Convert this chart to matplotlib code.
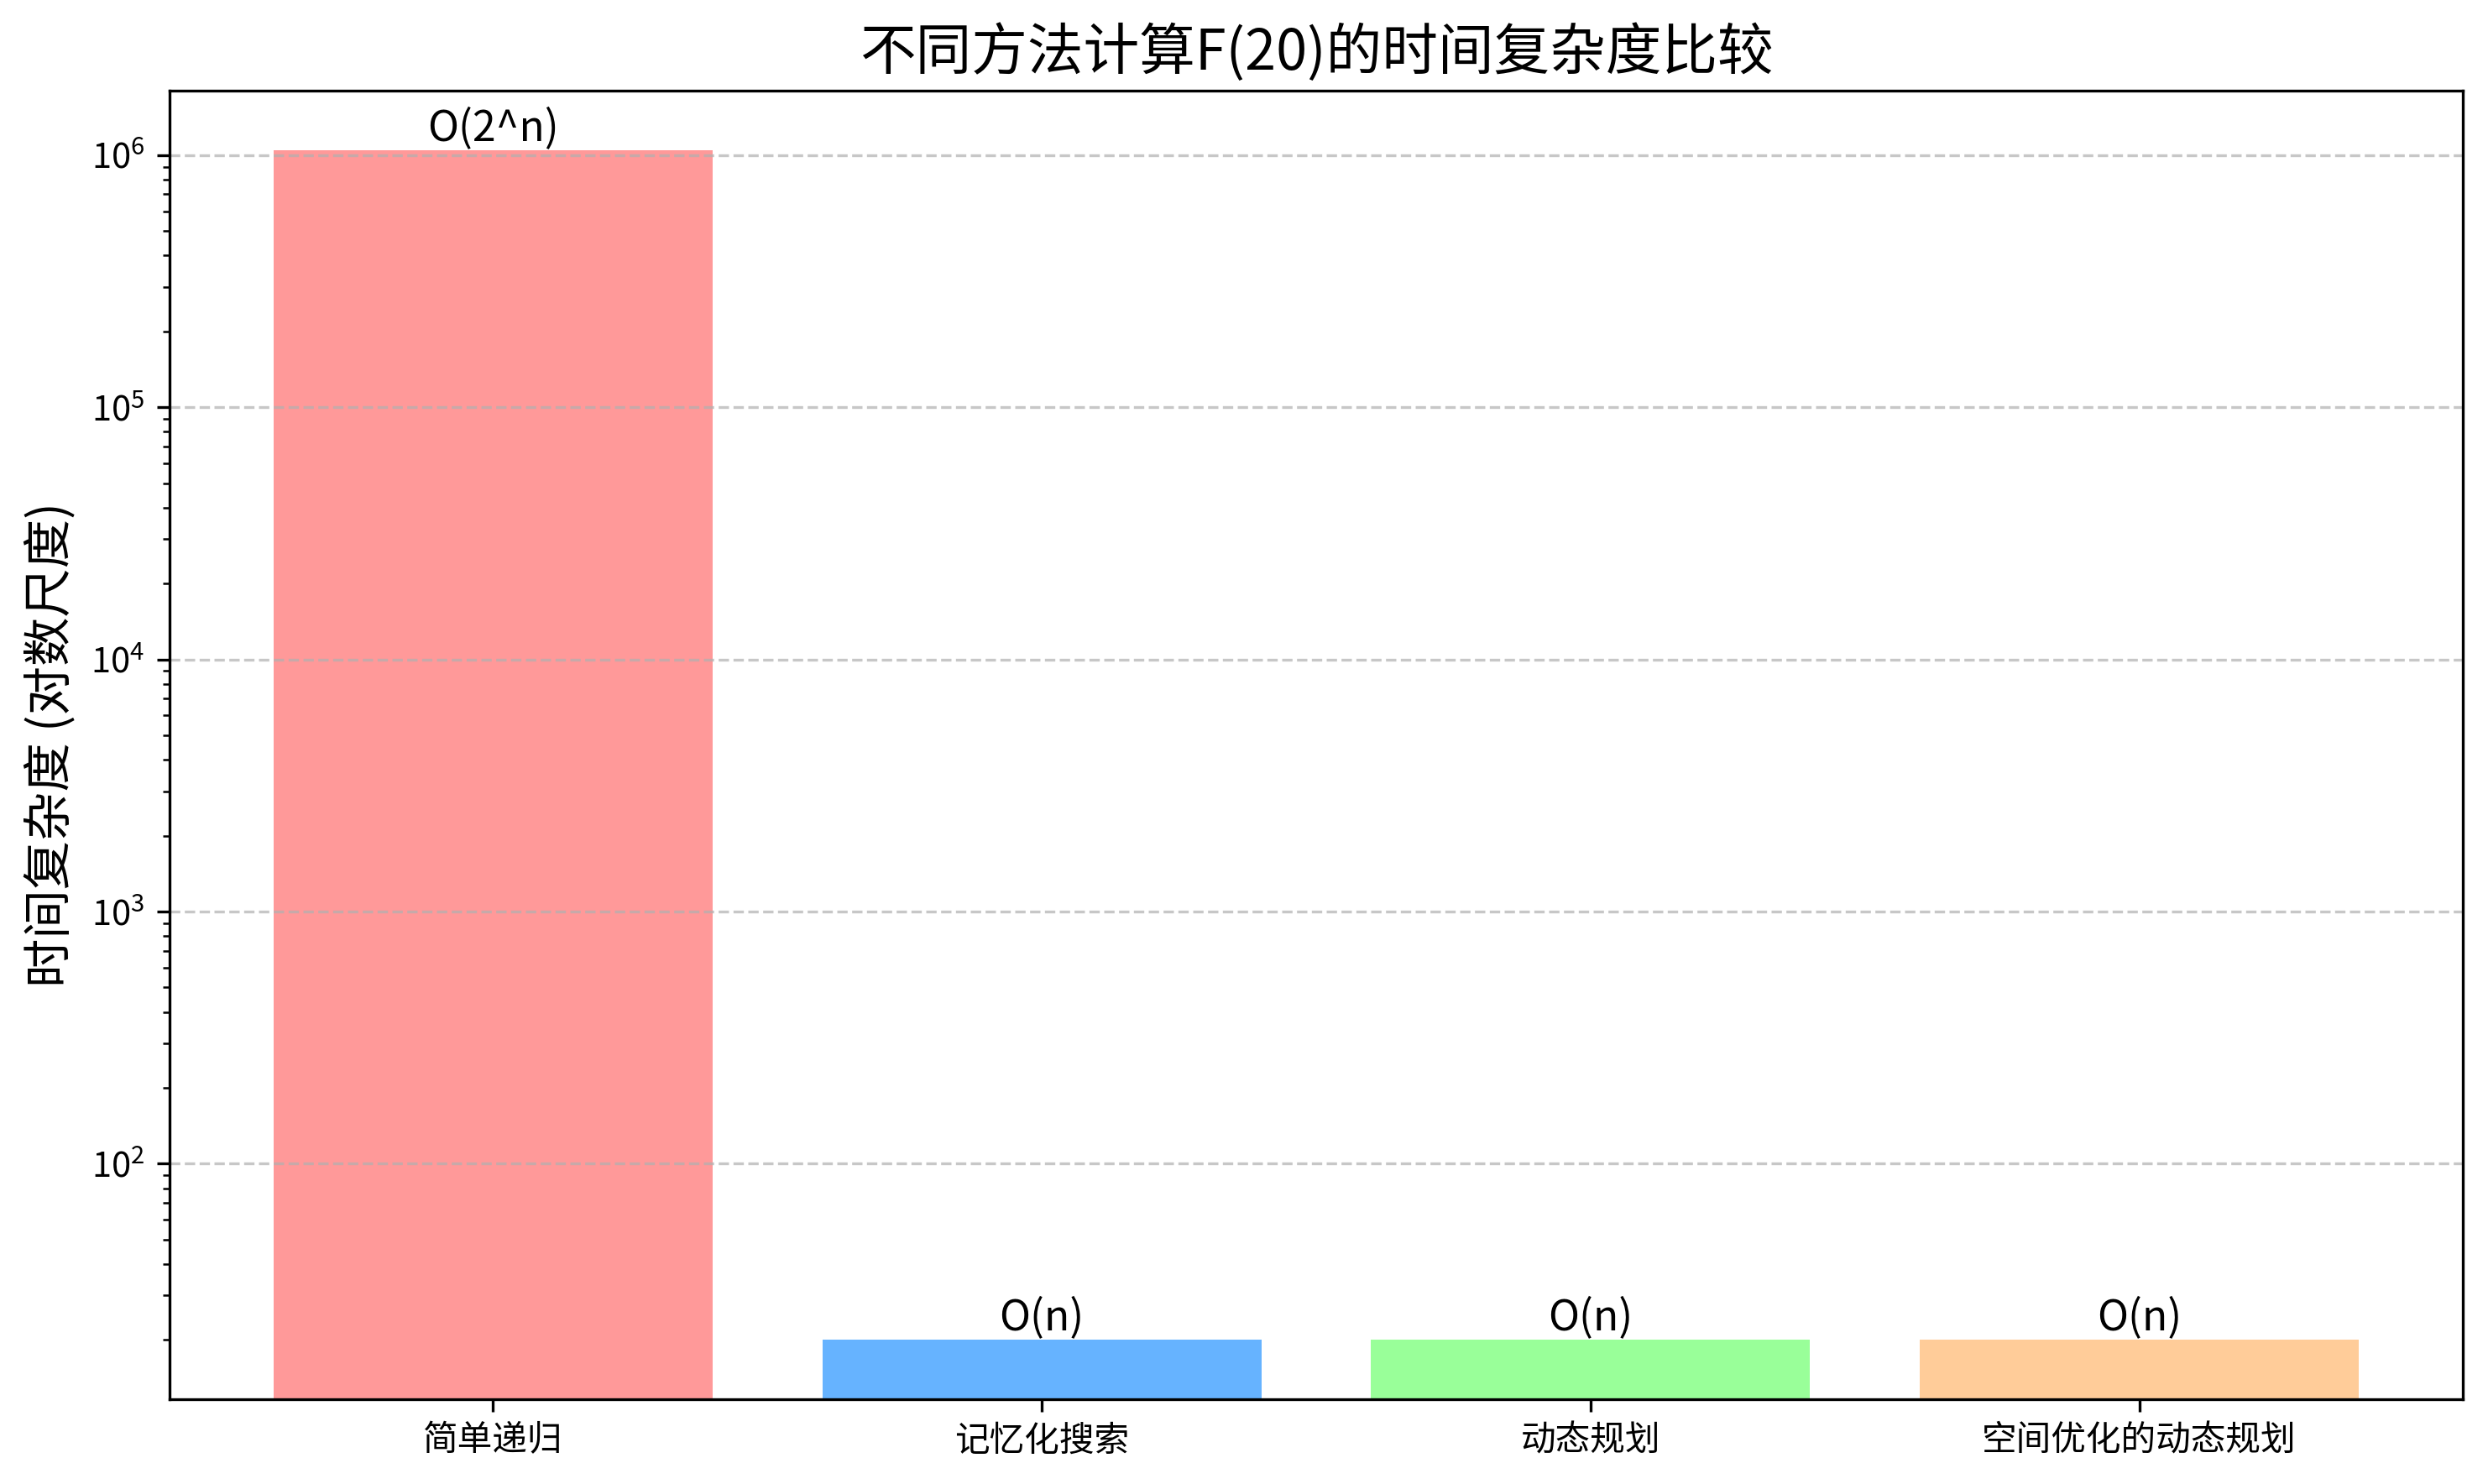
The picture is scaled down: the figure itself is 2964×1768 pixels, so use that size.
import matplotlib
matplotlib.use('Agg')
import matplotlib.pyplot as plt

plt.rcParams['font.family'] = ['Noto Sans CJK SC', 'DejaVu Sans']
plt.rcParams['axes.unicode_minus'] = False

methods = ['简单递归', '记忆化搜索', '动态规划', '空间优化的动态规划']
n = 20
ops = [2 ** n, n, n, n]
complexity = ['O(2^n)', 'O(n)', 'O(n)', 'O(n)']
colors = ['#ff9999', '#66b3ff', '#99ff99', '#ffcc99']

fig = plt.figure(figsize=(2964 / 300, 1768 / 300), dpi=300)
ax = fig.add_axes([0.068, 0.057, 0.922, 0.882])

bars = ax.bar(methods, ops, color=colors)
ax.set_yscale('log')

for bar, label in zip(bars, complexity):
    ax.text(bar.get_x() + bar.get_width() / 2, bar.get_height(), label,
            ha='center', va='bottom', fontsize=12)

ax.set_title('不同方法计算F(20)的时间复杂度比较', fontsize=16)
ax.set_ylabel('时间复杂度 (对数尺度)', fontsize=14)
ax.grid(axis='y', linestyle='--', alpha=0.7)

fig.savefig('out.png', dpi=300)
